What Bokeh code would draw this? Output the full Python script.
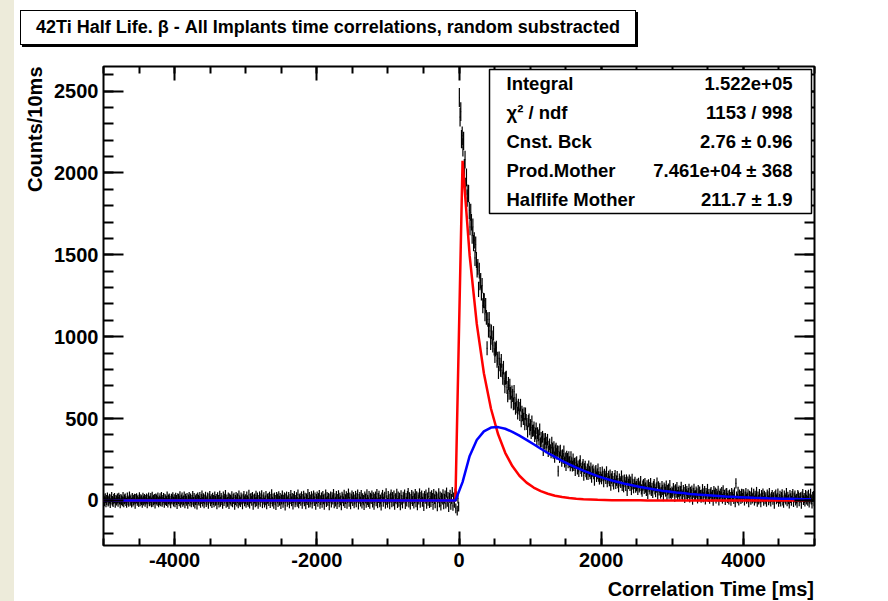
import numpy as np
from bokeh.plotting import figure
from bokeh.models import (ColumnDataSource, Range1d, LinearAxis, SingleIntervalTicker,
                          Label, BoxAnnotation, Div, Title, PrintfTickFormatter,
                          CustomJSTickFormatter)
from bokeh.layouts import row, column
from bokeh.embed import file_html
from bokeh.resources import INLINE

BIN_WIDTH = 10      # ms per bin
RANDOM_VAR = 900    # variance per bin added by the random-coincidence subtraction

# beta - implant time differences, random coincidences subtracted (counts per 10 ms bin)
counts_before = [
    8, -5, 14, -12, 3, 19, -7, 0, 11, -16, 6, 22, -3, -10, 9, 15, -14, 4, -1, 12,
    -9, 17, 5, -18, 10, 2, -6, 21, -11, 7, 13, -4, -15, 18, 1, -8, 24, -2, 6, -13,
    16, -7, 3, 11, -20, 9, 14, -3, 5, -10, 20, -6, 8, 2, -14, 17, -1, 10, -9, 4,
    12, -17, 7, 19, -5, 0, 15, -12, 23, -8, 3, 9, -19, 13, 6, -2, 18, -11, 1, 14,
    -6, 21, -9, 4, 16, -15, 10, 2, -4, 25, -13, 7, 12, -1, -18, 11, 5, 20, -7, 8,
    -11, 17, 3, -22, 14, 9, -5, 26, -14, 6, 19, -8, 1, 24, -17, 11, -3, 15, -20, 7,
    22, -6, 13, -12, 4, 28, -9, 16, -19, 2, 11, -25, 18, 5, -3, 21, -15, 9, 30, -7,
    14, -18, 6, 23, -10, 1, 19, -21, 12, 27, -5, 8, -16, 17, 3, -11, 25, -2, 10, -24,
    20, 4, -13, 29, -8, 15, 2, -20, 24, -4, 11, 33, -14, 7, -9, 18, -22, 13, 5, -6,
    26, -12, 9, 17, -27, 3, 21, -7, 14, -18, 31, 0, -10, 19, 6, -23, 12, 28, -5, 8,
    -15, 24, 2, -8, 35, -19, 11, 16, -3, 22, -26, 7, 13, -11, 29, -6, 18, -21, 4, 25,
    -9, 14, 32, -17, 6, 20, -13, 1, 27, -24, 10, 15, -4, 23, -16, 9, 38, -7, 12, -20,
    18, 3, -28, 21, 11, -10, 26, -2, 16, -22, 7, 30, -14, 5, 19, -31, 13, 24, -8, 2,
    22, -18, 9, 34, -5, 15, -25, 11, 27, -12, 4, 20, -9, 36, -17, 8, 14, -3, 25, -21,
    10, 29, -6, 17, -23, 13, 3, 40, -15, 21, -11, 6, 26, -19, 12, 31, -4, 18, -27, 9,
    24, -8, 15, 33, -20, 2, 19, -14, 28, 7, -26, 12, 37, -10, 22, -3, 16, -29, 11, 25,
    -13, 20, 5, 39, -18, 14, -7, 27, -22, 9, 32, -11, 17, 1, -30, 23, 13, -5, 35, -16,
    8, 26, -20, 15, 42, -9, 19, -24, 11, 30, -4, 21, -17, 6, 28, -12, 16, 36, -25, 10,
    22, -7, 33, -19, 14, 4, -28, 25, 12, -15, 38, 3, -10, 27, -21, 17, 9, 31, -13, 20,
    -26, 11, 24, -6, 40, -17, 15, 29, -11, 6, -32, 19, 34, -8, 13, 23, -20, 44, 2, -14,
    27, 10, -23, 18, 36, -12, 21, -5, 30, -27, 14, 7, 41, -16, 25, -9, 17, -30, 32, 4,
    -18, 23, 12, 37, -22, 16, -7, 28, 45, -13, 20, -25, 9, 34, -4, 24, -19, 13, 39, -11,
    26, -29, 18, 5, 43, -15, 22, 31, -8, 14, -34, 27, 10, 36, -21, 19, -2, 47, -16, 23,
    -10, 32, 15, -26, 40, 8, -18, 29, 21, -36, 13, 44, -12, 25, -31, 17, 6, 38, -23, 11,
    30, -19, 48, -8, 22, -41, 16, 35, -27, 9, 52, -33, 19, -15, 43, -48, 26, -62, 12, -38,
]

counts_after = [
    2460, 2341, 2374, 2207, 2227, 2156, 2196, 2031, 2081, 1917,
    1973, 1846, 1876, 1874, 1771, 1670, 1760, 1699, 1618, 1671,
    1571, 1588, 1481, 1563, 1468, 1410, 1427, 1289, 1404, 1331,
    1342, 1267, 1312, 1189, 1222, 1220, 1139, 1191, 1118, 929,
    1105, 1039, 1106, 1035, 962, 1030, 995, 946, 1021, 928,
    882, 924, 933, 853, 866, 783, 868, 830, 796, 853,
    794, 747, 811, 742, 695, 747, 752, 690, 639, 714,
    655, 703, 655, 601, 663, 641, 590, 665, 592, 562,
    615, 571, 533, 583, 563, 523, 582, 485, 541, 522,
    498, 531, 466, 530, 491, 467, 421, 484, 493, 435,
    460, 412, 482, 425, 428, 445, 393, 409, 439, 362, 411, 397, 372, 434, 349, 382, 359, 389, 307, 375,
    347, 376, 324, 353, 371, 300, 329, 343, 308, 292, 353, 318, 289, 326, 265, 307, 318, 285, 302, 179,
    299, 263, 305, 273, 239, 278, 256, 301, 235, 259, 213, 270, 256, 231, 267, 236, 211, 267, 230, 210,
    253, 213, 227, 182, 231, 236, 192, 210, 176, 218, 243, 195, 177, 205, 219, 153, 195, 209, 175, 159,
    193, 158, 211, 177, 162, 199, 140, 177, 186, 162, 122, 176, 183, 145, 162, 192, 146, 129, 172, 143,
    131, 174, 149, 112, 161, 149, 133, 176, 113, 135, 149, 119, 156, 91, 134, 148, 117, 99, 136, 154,
    101, 121, 147, 106, 82, 132, 117, 108, 151, 89, 120, 81, 126, 112, 90, 127, 59, 115, 101, 127,
    90, 114, 64, 131, 98, 75, 101, 113, 78, 88, 101, 64, 107, 80, 89, 118, 68, 53, 90, 99,
    70, 106, 79, 58, 92, 39, 98, 81, 67, 106, 59, 77, 46, 87, 99, 68, 51, 79, 108, 35,
    86, 62, 77, 42, 52, 87, 65, 26, 79, 69, 54, 90, 31, 64, 72, 41, 93, 46, 36, 55,
    47, 75, 60, 23, 68, 48, 81, 34, 51, 61, 27, 57, 83, 38, 29, 64, 51, 14, 69, 39,
    58, 29, 46, 71, 18, 53, 40, 61, 4, 47, 71, 30, 32, 55, 44, 12, 64, 26, 55, 34,
    17, 37, 69, 20, 44, 57, 6, 46, 29, 70, 21, 40, 10, 43, 52, 22, 34, -2, 58, 35,
    48, 11, 41, 26, 59, -1, 29, 42, 21, 51, 11, 62, 22, 35, 2, 42, 46, 15, 30, 5,
    36, 22, -2, 46, 23, 36, 9, 49, -12, 104, 24, 13, 53, 0, 36, 27, 9, 41, 16, 39,
    36, -1, 25, 46, 10, 19, 38, -12, 29, 25, 4, 48, 12, 19, 41, -1, 29, 13, 52, -9,
    25, 5, 40, 13, -12, 33, 19, 43, -2, 29, 7, 20, -9, 36, 26, 1, 46, 13, -7, 22,
    33, 4, 20, -20, 28, 37, 7, 14, 43, -9, 10, 29, -7, 22, 38, 0, -14, 31, 17, 6,
    45, -5, 23, 7, -19, 34, 14, -2, 28, 39, -10, 18, 31, 0, 11, -14, 34, 24, -5, 16,
    20, -21, 25, 40, 2, 15, -7, 33, 5, 26, -3, 35, -13, 12, 41, 6, -19, 21, 28, -6,
]

# fit components sampled every 100 ms (t = 50, 150, ..., 4950 ms)
fit_times = [50 + 100 * k for k in range(50)]
mother_fit = [
    2074, 1495, 1078, 777, 560, 404, 291, 210, 151, 109,
    79, 57, 41, 29, 21, 15, 11, 8, 6, 4,
    3, 2, 2, 1, 1, 1, 0, 0, 0, 0,
    0, 0, 0, 0, 0, 0, 0, 0, 0, 0,
    0, 0, 0, 0, 0, 0, 0, 0, 0, 0,
]
daughter_fit = [
    112, 272, 369, 422, 445, 448, 438, 419, 396, 370,
    343, 316, 290, 266, 242, 221, 200, 182, 165, 149,
    135, 122, 111, 100, 91, 82, 74, 67, 60, 55,
    49, 45, 40, 36, 33, 30, 27, 24, 22, 20,
    18, 16, 15, 13, 12, 11, 10, 9, 8, 7,
]

stat_names = ["Integral", "\u03c7\u00b2 / ndf", "Cnst. Bck", "Prod.Mother", "Halflife Mother"]
stat_values = ["1.522e+05", "1153 / 998", "2.76 \u00b1 0.96", "7.461e+04 \u00b1 368", "211.7 \u00b1 1.9"]

title_text = "42Ti Half Life. \u03b2 - All Implants time correlations, random substracted"
x_title = "Correlation Time [ms]"
y_title = "Counts/10ms"

FONT = "Liberation Sans"
HEADER_H = 50   # band above the figure holding the title pave
FOOTER_H = 24   # band below the figure holding the x-axis title

# ---- histogram bins with error bars
t_before = [-(len(counts_before) - i) * BIN_WIDTH + BIN_WIDTH / 2 for i in range(len(counts_before))]
t_after = [i * BIN_WIDTH + BIN_WIDTH / 2 for i in range(len(counts_after))]
t = np.array(t_before + t_after, dtype=float)
y = np.array(counts_before + counts_after, dtype=float)
err = np.sqrt(np.clip(y, 0, None) + RANDOM_VAR)
src = ColumnDataSource(dict(t=t, y=y, lo=y - err, hi=y + err,
                            left=t - BIN_WIDTH / 2, right=t + BIN_WIDTH / 2))

p = figure(width=874, height=601 - HEADER_H - FOOTER_H,
           x_range=Range1d(-5000, 5000), y_range=Range1d(-275, 2650),
           output_backend="svg", toolbar_location=None,
           min_border_left=89, min_border_right=74,
           min_border_top=66 - HEADER_H, min_border_bottom=56 - FOOTER_H)
p.grid.visible = False
p.background_fill_color = "white"
p.border_fill_color = "white"
p.outline_line_color = "black"
p.outline_line_width = 2


def style_axis(ax, major_len, minor_len, show_labels, standoff):
    ax.axis_line_color = None
    ax.major_tick_in = major_len
    ax.major_tick_out = 0
    ax.minor_tick_in = minor_len
    ax.minor_tick_out = 0
    ax.major_tick_line_width = 2
    ax.minor_tick_line_width = 2
    ax.major_tick_line_color = "black"
    ax.minor_tick_line_color = "black"
    ax.major_label_text_font = FONT
    ax.major_label_text_font_style = "bold"
    ax.major_label_text_color = "black"
    ax.major_label_text_font_size = "20px"
    ax.major_label_standoff = standoff
    if show_labels:
        ax.formatter = PrintfTickFormatter(format="%d")
    else:
        ax.formatter = CustomJSTickFormatter(code="return ''")


p.xaxis.ticker = SingleIntervalTicker(interval=2000, num_minor_ticks=4)
p.yaxis.ticker = SingleIntervalTicker(interval=500, num_minor_ticks=5)
style_axis(p.xaxis[0], 14, 7, True, 7)
style_axis(p.yaxis[0], 20, 10, True, 5)

top_axis = LinearAxis(ticker=SingleIntervalTicker(interval=2000, num_minor_ticks=4))
right_axis = LinearAxis(ticker=SingleIntervalTicker(interval=500, num_minor_ticks=5))
style_axis(top_axis, 14, 7, False, 0)
style_axis(right_axis, 20, 10, False, 0)
p.add_layout(top_axis, "above")
p.add_layout(right_axis, "right")

# y-axis title, right-adjusted at the top end of the axis
p.add_layout(Title(text=y_title, align="right", text_font=FONT, text_font_style="bold",
                   text_font_size="20px", text_color="black", standoff=12), "left")

# data points with their error bars
p.segment(x0="t", y0="lo", x1="t", y1="hi", source=src, line_color="black", line_width=1.2)
p.segment(x0="left", y0="y", x1="right", y1="y", source=src, line_color="black", line_width=1.2)

# fit components
fx = [-5000, -50] + fit_times
p.line(fx, [0, 0] + mother_fit, line_color="#ff0000", line_width=2.5)
p.line(fx, [0, 0] + daughter_fit, line_color="#0000ff", line_width=2.5)

# ---- statistics pave, placed in screen pixels relative to the frame
FRAME_LEFT = 103
FRAME_BOTTOM = 545


def sx(px):
    return px - FRAME_LEFT


def sy(py):
    return FRAME_BOTTOM - py


p.add_layout(BoxAnnotation(left=sx(489), right=sx(811), top=sy(69), bottom=sy(213),
                           left_units="screen", right_units="screen",
                           top_units="screen", bottom_units="screen",
                           fill_color="white", fill_alpha=1.0,
                           line_color="black", line_width=1.5, line_alpha=1.0))

row_top, row_step = 69, (213 - 69) / len(stat_names)
for i, (name, val) in enumerate(zip(stat_names, stat_values)):
    yy = row_top + row_step * (i + 0.5)
    for px, s, align in ((506, name, "left"), (792, val, "right")):
        p.add_layout(Label(x=sx(px), y=sy(yy), x_units="screen", y_units="screen", text=s,
                           text_font=FONT, text_font_style="bold", text_font_size="18.5px",
                           text_align=align, text_baseline="middle", text_color="black"))

# ---- title pave above the frame
title_html = (
    "<div style=\"margin:10px 0 0 6px; width:616px; height:35px; box-sizing:border-box;"
    " border:1.5px solid #000; box-shadow:2px 2px 0 #000; background:#fff;"
    " display:flex; align-items:center; justify-content:center;"
    " font-family:'Liberation Sans'; font-weight:bold; font-size:18px; color:#000;"
    " white-space:nowrap;\">" + title_text + "</div>"
)
header = Div(text=title_html, width=874, height=HEADER_H, margin=0,
             styles={"background-color": "white"})

# ---- x-axis title below, right-adjusted at the frame's right edge
xtitle_html = (
    "<div style=\"width:800px; height:24px; text-align:right; line-height:24px;"
    " font-family:'Liberation Sans'; font-weight:bold; font-size:20px; color:#000;"
    " white-space:nowrap;\">" + x_title + "</div>"
)
footer = Div(text=xtitle_html, width=874, height=FOOTER_H, margin=0,
             styles={"background-color": "white"})

strip = Div(width=14, height=601, margin=0, styles={"background-color": "#edebda"})
layout = row(strip, column(header, p, footer, spacing=0), spacing=0)

open("out.html", "w").write(file_html(layout, INLINE, title="42Ti half life"))
